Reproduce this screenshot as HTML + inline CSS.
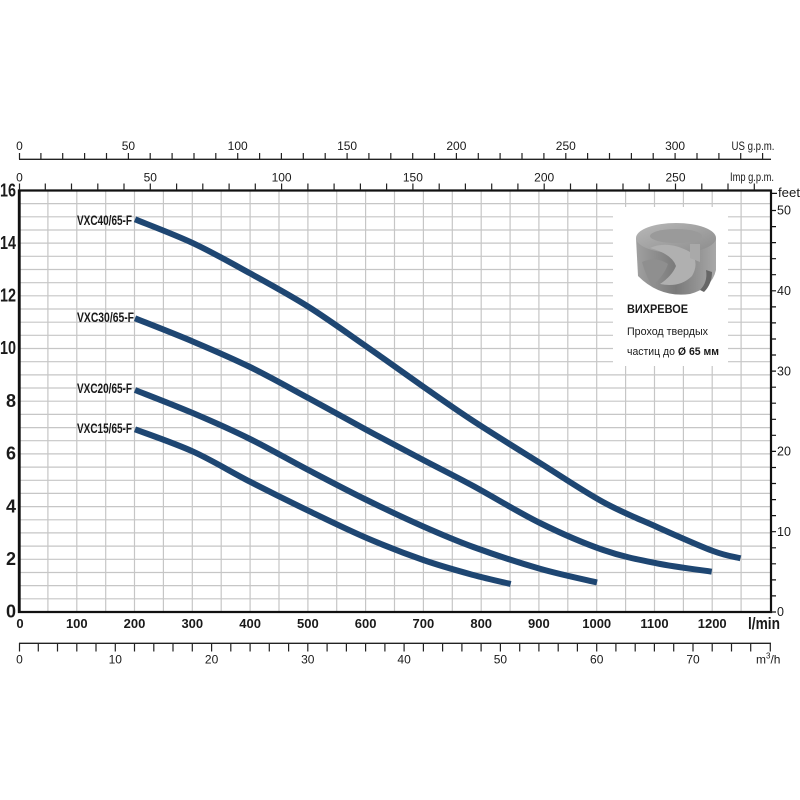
<!DOCTYPE html>
<html><head><meta charset="utf-8"><style>
html,body{margin:0;padding:0;background:#fff;}
svg{display:block;}
text{font-family:"Liberation Sans",sans-serif;fill:#1a1a1a;}
</style></head><body>
<svg id="chart" width="800" height="800" viewBox="0 0 800 800" xmlns="http://www.w3.org/2000/svg">
<defs>
<linearGradient id="gt" x1="0" y1="0" x2="1" y2="1">
<stop offset="0" stop-color="#b8b8b8"/><stop offset="1" stop-color="#8c8c8c"/>
</linearGradient>
<linearGradient id="gb" x1="0" y1="0" x2="1" y2="0">
<stop offset="0" stop-color="#a0a0a0"/><stop offset="0.5" stop-color="#7a7a7a"/><stop offset="1" stop-color="#a8a8a8"/>
</linearGradient>
</defs>
<rect width="800" height="800" fill="#fff"/>
<!-- grid -->
<g stroke="#c6c6c6" stroke-width="1.2">
<path d="M47.9 191V612M76.8 191V612M105.7 191V612M134.5 191V612M163.4 191V612M192.3 191V612M221.2 191V612M250.1 191V612M279 191V612M307.9 191V612M336.7 191V612M365.6 191V612M394.5 191V612M423.4 191V612M452.3 191V612M481.2 191V612M510.1 191V612M538.9 191V612M567.8 191V612M596.7 191V612M625.6 191V612M654.5 191V612M683.4 191V612M712.2 191V612M741.1 191V612"/>
<path d="M19 598.8H771M19 585.6H771M19 572.5H771M19 559.3H771M19 546.1H771M19 532.9H771M19 519.8H771M19 506.6H771M19 493.4H771M19 480.3H771M19 467.1H771M19 453.9H771M19 440.7H771M19 427.6H771M19 414.4H771M19 401.2H771M19 388H771M19 374.9H771M19 361.7H771M19 348.5H771M19 335.3H771M19 322.2H771M19 309H771M19 295.8H771M19 282.7H771M19 269.5H771M19 256.3H771M19 243.1H771M19 230H771M19 216.8H771M19 203.6H771"/>
</g>
<!-- inset -->
<rect x="613" y="207" width="115" height="159" fill="#fff"/>
<g>
<path d="M636 238 L638 276 Q660 298 690 294 Q712 288 716 270 L716 238 Z" fill="url(#gb)"/>
<ellipse cx="676" cy="238" rx="40" ry="15" fill="url(#gt)"/>
<path d="M650 248 Q668 240 690 252 Q700 262 692 276 Q680 288 660 284 Q672 276 676 266 Q672 254 650 248 Z" fill="#b0b0b0"/>
<path d="M642 262 Q656 256 668 264 Q664 276 652 286 Q646 276 642 262 Z" fill="#8f8f8f"/>
<path d="M690 244 L700 244 L700 262 L690 258 Z" fill="#a9a9a9"/>
<path d="M706 270 Q708 282 700 290 L704 292 Q712 284 712 272 Z" fill="#666"/>
<ellipse cx="676" cy="236" rx="26" ry="7" fill="#9a9a9a"/>
</g>
<text x="627" y="313" font-size="12" font-weight="bold" textLength="61" lengthAdjust="spacingAndGlyphs">ВИХРЕВОЕ</text>
<text x="627" y="335" font-size="11" textLength="81" lengthAdjust="spacingAndGlyphs">Проход твердых</text>
<text x="627" y="355" font-size="11" textLength="92" lengthAdjust="spacingAndGlyphs">частиц до <tspan font-weight="bold">Ø 65 мм</tspan></text>
<!-- plot border -->
<path d="M19 190.5 H771 V612 H19 Z" fill="none" stroke="#111" stroke-width="2.2"/>
<path d="M19.3 190 V613" stroke="#111" stroke-width="2.8"/>
<!-- curves -->
<g fill="none" stroke="#1e4672" stroke-width="6" stroke-linejoin="round" stroke-linecap="butt">
<polyline class="sm" points="135,219.3 193.3,243.3 250,273.3 308.3,306.7 366.7,346.7 423.3,386.7 473.3,421 540,463 603,502 657,527 713,551 740.5,558.3"/>
<polyline class="sm" points="135,318.3 193.3,341.7 250,367 308.3,398 366.7,430 423.3,460 473.3,486 540,523 603.3,550 656.7,563.3 711.7,571.7"/>
<polyline class="sm" points="135,390 193.3,413.3 250,439 308.3,470 366.7,500 423.3,526.5 473.3,547 540,568.8 597,582.5"/>
<polyline class="sm" points="135,429.3 193.3,451.7 250,481.7 308.3,510.7 366.7,538 423.3,560 473.3,575 510.7,584"/>
</g>
<!-- curve labels -->
<g font-size="14" font-weight="bold">
<text x="77" y="225" textLength="55" lengthAdjust="spacingAndGlyphs">VXC40/65-F</text>
<text x="77" y="322" textLength="57" lengthAdjust="spacingAndGlyphs">VXC30/65-F</text>
<text x="77" y="393" textLength="55" lengthAdjust="spacingAndGlyphs">VXC20/65-F</text>
<text x="77" y="433" textLength="55" lengthAdjust="spacingAndGlyphs">VXC15/65-F</text>
</g>
<!-- left axis labels -->
<g font-size="18" font-weight="bold" text-anchor="end">
<text x="16" y="617.5">0</text>
<text x="16" y="565">2</text>
<text x="16" y="512.3">4</text>
<text x="16" y="459.6">6</text>
<text x="16" y="406.9">8</text>
<text x="16" y="354.2" textLength="16" lengthAdjust="spacingAndGlyphs">10</text>
<text x="16" y="301.5" textLength="16" lengthAdjust="spacingAndGlyphs">12</text>
<text x="16" y="248.8" textLength="16" lengthAdjust="spacingAndGlyphs">14</text>
<text x="16" y="196.5" textLength="16" lengthAdjust="spacingAndGlyphs">16</text>
</g>
<!-- bottom l/min labels -->
<g font-size="13" font-weight="bold" text-anchor="middle">
<text x="20" y="628">0</text>
<text x="76.8" y="628">100</text>
<text x="134.5" y="628">200</text>
<text x="192.3" y="628">300</text>
<text x="250.1" y="628">400</text>
<text x="307.9" y="628">500</text>
<text x="365.6" y="628">600</text>
<text x="423.4" y="628">700</text>
<text x="481.2" y="628">800</text>
<text x="538.9" y="628">900</text>
<text x="596.7" y="628">1000</text>
<text x="654.5" y="628">1100</text>
<text x="712.2" y="628">1200</text>
</g>
<text x="748" y="629" font-size="17" font-weight="bold" textLength="32" lengthAdjust="spacingAndGlyphs">l/min</text>
<!-- right axis feet -->
<g stroke="#111" stroke-width="1.2">
<path d="M771 612H776M771 595.9H776M771 579.9H776M771 563.8H776M771 547.8H776M771 531.7H776M771 515.6H776M771 499.6H776M771 483.5H776M771 467.5H776M771 451.4H776M771 435.3H776M771 419.3H776M771 403.2H776M771 387.2H776M771 371.1H776M771 355H776M771 339H776M771 322.9H776M771 306.9H776M771 290.8H776M771 274.7H776M771 258.7H776M771 242.6H776M771 226.6H776M771 210.5H776M771 193.4H777"/>
</g>
<g font-size="12.5">
<text x="777" y="616">0</text>
<text x="777" y="536">10</text>
<text x="777" y="455.7">20</text>
<text x="777" y="375.3">30</text>
<text x="777" y="295">40</text>
<text x="777" y="214.7">50</text>
<text x="778" y="197" textLength="22" lengthAdjust="spacingAndGlyphs">feet</text>
</g>
<!-- top US gpm axis -->
<path d="M19 159.3H771" stroke="#222" stroke-width="1.3"/>
<g stroke="#222" stroke-width="1.2">
<path d="M19.5 153V159.3M40.9 153V159.3M62.7 153V159.3M84.6 153V159.3M106.5 153V159.3M128.4 153V159.3M150.2 153V159.3M172.1 153V159.3M194 153V159.3M215.8 153V159.3M237.7 153V159.3M259.6 153V159.3M281.4 153V159.3M303.3 153V159.3M325.2 153V159.3M347.1 153V159.3M368.9 153V159.3M390.8 153V159.3M412.7 153V159.3M434.5 153V159.3M456.4 153V159.3M478.3 153V159.3M500.1 153V159.3M522 153V159.3M543.9 153V159.3M565.8 153V159.3M587.6 153V159.3M609.5 153V159.3M631.4 153V159.3M653.2 153V159.3M675.1 153V159.3M697 153V159.3M718.9 153V159.3M740.7 153V159.3M762.6 153V159.3"/>
</g>
<g font-size="12" text-anchor="middle">
<text x="19.5" y="150">0</text>
<text x="128.4" y="150">50</text>
<text x="237.7" y="150">100</text>
<text x="347.1" y="150">150</text>
<text x="456.4" y="150">200</text>
<text x="565.8" y="150">250</text>
<text x="675.1" y="150">300</text>
</g>
<text x="731.5" y="150" font-size="12" textLength="43" lengthAdjust="spacingAndGlyphs">US g.p.m.</text>
<!-- top Imp gpm ticks -->
<g stroke="#222" stroke-width="1.2">
<path d="M45.3 183.5V190M71.5 183.5V190M97.8 183.5V190M124 183.5V190M150.3 183.5V190M176.6 183.5V190M202.8 183.5V190M229.1 183.5V190M255.3 183.5V190M281.6 183.5V190M307.9 183.5V190M334.1 183.5V190M360.4 183.5V190M386.6 183.5V190M412.9 183.5V190M439.2 183.5V190M465.4 183.5V190M491.7 183.5V190M517.9 183.5V190M544.2 183.5V190M570.5 183.5V190M596.7 183.5V190M623 183.5V190M649.2 183.5V190M675.5 183.5V190M701.8 183.5V190M728 183.5V190M754.3 183.5V190M19.5 183.5V190"/>
</g>
<g font-size="12" text-anchor="middle">
<text x="19.5" y="181.7">0</text>
<text x="150.3" y="181.7">50</text>
<text x="281.6" y="181.7">100</text>
<text x="412.9" y="181.7">150</text>
<text x="544.2" y="181.7">200</text>
<text x="675.5" y="181.7">250</text>
</g>
<text x="730" y="181" font-size="12" textLength="44" lengthAdjust="spacingAndGlyphs">Imp g.p.m.</text>
<!-- bottom m3/h axis -->
<path d="M19 643.3H771" stroke="#222" stroke-width="1.3"/>
<g stroke="#222" stroke-width="1.2">
<path d="M19.5 643V651.5M38.3 643V651.5M57.5 643V651.5M76.8 643V651.5M96 643V651.5M115.3 643V651.5M134.5 643V651.5M153.8 643V651.5M173 643V651.5M192.3 643V651.5M211.6 643V651.5M230.8 643V651.5M250.1 643V651.5M269.3 643V651.5M288.6 643V651.5M307.8 643V651.5M327.1 643V651.5M346.4 643V651.5M365.6 643V651.5M384.9 643V651.5M404.1 643V651.5M423.4 643V651.5M442.6 643V651.5M461.9 643V651.5M481.1 643V651.5M500.4 643V651.5M519.7 643V651.5M538.9 643V651.5M558.2 643V651.5M577.4 643V651.5M596.7 643V651.5M615.9 643V651.5M635.2 643V651.5M654.4 643V651.5M673.7 643V651.5M693 643V651.5M712.2 643V651.5M731.5 643V651.5M750.7 643V651.5M770.3 643V651.5"/>
</g>
<g font-size="12" text-anchor="middle">
<text x="19.5" y="663.5">0</text>
<text x="115.3" y="663.5">10</text>
<text x="211.6" y="663.5">20</text>
<text x="307.8" y="663.5">30</text>
<text x="404.1" y="663.5">40</text>
<text x="500.4" y="663.5">50</text>
<text x="596.7" y="663.5">60</text>
<text x="693" y="663.5">70</text>
</g>
<text x="756" y="663.5" font-size="12">m<tspan font-size="8" dy="-5">3</tspan><tspan dy="5">/h</tspan></text>
</svg>
<script>
(function(){
  var NS="http://www.w3.org/2000/svg";
  var pls=document.querySelectorAll("polyline.sm");
  for(var k=0;k<pls.length;k++){
    var pl=pls[k];
    var raw=pl.getAttribute("points").trim().split(/\s+/);
    var p=[];
    for(var i=0;i<raw.length;i++){var c=raw[i].split(",");p.push([parseFloat(c[0]),parseFloat(c[1])]);}
    var d="M"+p[0][0]+" "+p[0][1];
    for(var i=0;i<p.length-1;i++){
      var p0=p[i>0?i-1:i],p1=p[i],p2=p[i+1],p3=p[i+2<p.length?i+2:i+1];
      var c1x=p1[0]+(p2[0]-p0[0])/6,c1y=p1[1]+(p2[1]-p0[1])/6;
      var c2x=p2[0]-(p3[0]-p1[0])/6,c2y=p2[1]-(p3[1]-p1[1])/6;
      d+=" C"+c1x.toFixed(2)+" "+c1y.toFixed(2)+" "+c2x.toFixed(2)+" "+c2y.toFixed(2)+" "+p2[0]+" "+p2[1];
    }
    var path=document.createElementNS(NS,"path");
    path.setAttribute("d",d);
    pl.parentNode.replaceChild(path,pl);
  }
})();
</script>
</body></html>
